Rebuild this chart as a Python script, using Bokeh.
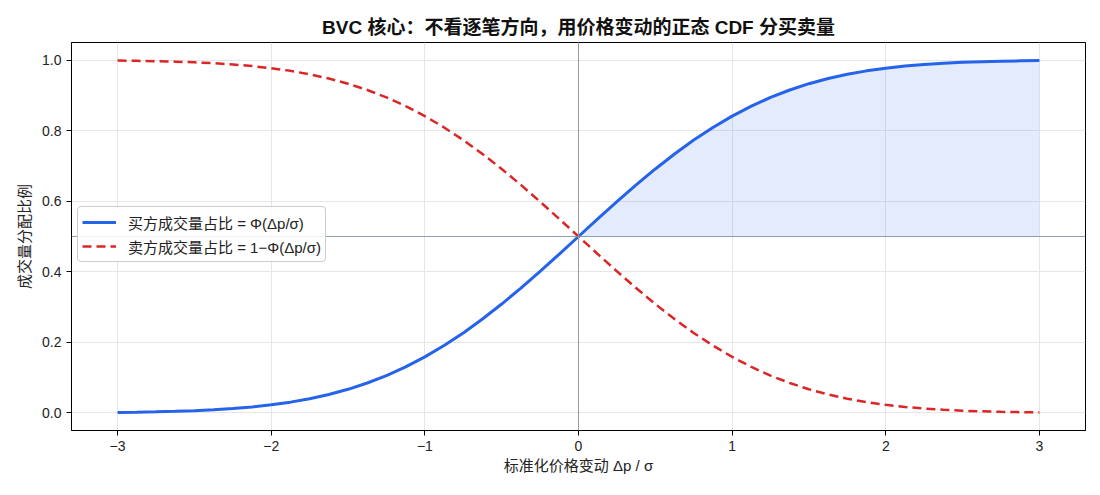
from bokeh.plotting import figure
from bokeh.models import FixedTicker, Span, Legend, LegendItem, Range1d
from bokeh.embed import file_html
from bokeh.resources import INLINE

x_vals = [-3.0, -2.875, -2.75, -2.625, -2.5, -2.375, -2.25, -2.125, -2.0, -1.875, -1.75, -1.625,
          -1.5, -1.375, -1.25, -1.125, -1.0, -0.875, -0.75, -0.625, -0.5, -0.375, -0.25, -0.125,
          0.0, 0.125, 0.25, 0.375, 0.5, 0.625, 0.75, 0.875, 1.0, 1.125, 1.25, 1.375,
          1.5, 1.625, 1.75, 1.875, 2.0, 2.125, 2.25, 2.375, 2.5, 2.625, 2.75, 2.875, 3.0]
buy_share = [0.0013, 0.0020, 0.0030, 0.0043, 0.0062, 0.0088, 0.0122, 0.0168, 0.0228, 0.0304,
             0.0401, 0.0521, 0.0668, 0.0846, 0.1056, 0.1303, 0.1587, 0.1908, 0.2266, 0.2660,
             0.3085, 0.3538, 0.4013, 0.4503, 0.5000, 0.5497, 0.5987, 0.6462, 0.6915, 0.7340,
             0.7734, 0.8092, 0.8413, 0.8697, 0.8944, 0.9154, 0.9332, 0.9479, 0.9599, 0.9696,
             0.9772, 0.9832, 0.9878, 0.9912, 0.9938, 0.9957, 0.9970, 0.9980, 0.9987]
sell_share = [0.9987, 0.9980, 0.9970, 0.9957, 0.9938, 0.9912, 0.9878, 0.9832, 0.9772, 0.9696,
              0.9599, 0.9479, 0.9332, 0.9154, 0.8944, 0.8697, 0.8413, 0.8092, 0.7734, 0.7340,
              0.6915, 0.6462, 0.5987, 0.5497, 0.5000, 0.4503, 0.4013, 0.3538, 0.3085, 0.2660,
              0.2266, 0.1908, 0.1587, 0.1303, 0.1056, 0.0846, 0.0668, 0.0521, 0.0401, 0.0304,
              0.0228, 0.0168, 0.0122, 0.0088, 0.0062, 0.0043, 0.0030, 0.0020, 0.0013]
x_ticks = [-3, -2, -1, 0, 1, 2, 3]
x_tick_labels = ["\u22123", "\u22122", "\u22121", "0", "1", "2", "3"]
y_ticks = [0.0, 0.2, 0.4, 0.6, 0.8, 1.0]
y_tick_labels = ["0.0", "0.2", "0.4", "0.6", "0.8", "1.0"]
ref_level = 0.5

FONT = "'Liberation Sans', 'Noto Sans CJK SC', sans-serif"
BLUE = "#2563eb"
RED = "#dc2626"

p = figure(width=1100, height=495, output_backend="svg", toolbar_location=None,
           x_range=Range1d(-3.3, 3.3), y_range=Range1d(-0.05, 1.05),
           min_border_left=71, min_border_right=15, min_border_top=42, min_border_bottom=65,
           title="BVC 核心：不看逐笔方向，用价格变动的正态 CDF 分买卖量")
p.title.align = "center"
p.title.text_font = FONT
p.title.text_font_size = "19px"
p.title.text_font_style = "bold"
p.title.text_color = "#111111"
p.title.offset = 0

p.outline_line_color = "black"
p.outline_line_alpha = 1.0
p.outline_line_width = 1
p.background_fill_color = "white"
p.border_fill_color = "white"

for ax in (p.xaxis, p.yaxis):
    ax.axis_line_color = "black"
    ax.major_tick_line_color = "black"
    ax.major_tick_out = 5
    ax.major_tick_in = 0
    ax.minor_tick_line_color = None
    ax.major_label_text_font = FONT
    ax.major_label_text_font_size = "14px"
    ax.major_label_text_color = "#222222"
    ax.axis_label_text_font = FONT
    ax.axis_label_text_font_size = "15px"
    ax.axis_label_text_font_style = "normal"
    ax.axis_label_text_color = "#222222"

p.xaxis.ticker = FixedTicker(ticks=x_ticks)
p.xaxis.major_label_overrides = {t: l for t, l in zip(x_ticks, x_tick_labels)}
p.yaxis.ticker = FixedTicker(ticks=y_ticks)
p.yaxis.major_label_overrides = {t: l for t, l in zip(y_ticks, y_tick_labels)}
p.xaxis.axis_label = "标准化价格变动 Δp / σ"
p.yaxis.axis_label = "成交量分配比例"
p.xaxis.axis_label_standoff = 3
p.yaxis.axis_label_standoff = 6

p.xgrid.grid_line_color = "#e6e6e6"
p.ygrid.grid_line_color = "#e6e6e6"

# shaded area between buy curve and 0.5 for x >= 0
pos_x = [x for x in x_vals if x >= 0]
pos_y = [y for x, y in zip(x_vals, buy_share) if x >= 0]
p.varea(x=pos_x, y1=[ref_level] * len(pos_x), y2=pos_y, fill_color=BLUE, fill_alpha=0.13)

p.add_layout(Span(location=ref_level, dimension="width", line_color="#7f93b5", line_width=1, line_alpha=0.9))
p.add_layout(Span(location=0, dimension="height", line_color="#999999", line_width=1))

r_buy = p.line(x_vals, buy_share, line_color=BLUE, line_width=3)
r_sell = p.line(x_vals, sell_share, line_color=RED, line_width=2.5, line_dash="9 5")

legend = Legend(items=[LegendItem(label="买方成交量占比 = Φ(Δp/σ)", renderers=[r_buy]),
                       LegendItem(label="卖方成交量占比 = 1−Φ(Δp/σ)", renderers=[r_sell])],
                location=(6, 168))
legend.label_text_font = FONT
legend.label_text_font_size = "15px"
legend.label_text_color = "#222222"
legend.border_line_color = "#cccccc"
legend.border_line_alpha = 1.0
legend.border_radius = 4
legend.background_fill_alpha = 0.85
legend.glyph_width = 34
legend.glyph_height = 22
legend.label_height = 22
legend.spacing = 2
legend.padding = 4
legend.margin = 0
legend.label_standoff = 12
p.add_layout(legend)

open("out.html", "w").write(file_html(p, INLINE))
